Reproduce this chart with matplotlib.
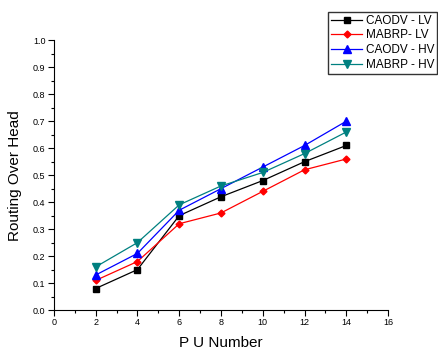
import matplotlib.pyplot as plt
from matplotlib.ticker import MultipleLocator

plt.rcParams['font.family'] = ['Liberation Sans', 'DejaVu Sans']

pu_number = [2, 4, 6, 8, 10, 12, 14]
caodv_lv = [0.08, 0.15, 0.35, 0.42, 0.48, 0.55, 0.61]
mabrp_lv = [0.11, 0.18, 0.32, 0.36, 0.44, 0.52, 0.56]
caodv_hv = [0.13, 0.21, 0.37, 0.45, 0.53, 0.61, 0.70]
mabrp_hv = [0.16, 0.25, 0.39, 0.46, 0.51, 0.58, 0.66]

fig = plt.figure(figsize=(4.38, 3.5), dpi=100)
ax = fig.add_axes([0.123, 0.114, 0.763, 0.771])

ax.plot(pu_number, caodv_lv, color='black', marker='s', markersize=4, linewidth=0.9, label='CAODV - LV')
ax.plot(pu_number, mabrp_lv, color='red', marker='D', markersize=3.5, linewidth=0.9, label='MABRP- LV')
ax.plot(pu_number, caodv_hv, color='blue', marker='^', markersize=5.5, linewidth=0.9, label='CAODV - HV')
ax.plot(pu_number, mabrp_hv, color='#008080', marker='v', markersize=5.5, linewidth=0.9, label='MABRP - HV')

ax.set_xlim(0, 16)
ax.set_ylim(0, 1.0)
ax.xaxis.set_major_locator(MultipleLocator(2))
ax.xaxis.set_minor_locator(MultipleLocator(1))
ax.yaxis.set_major_locator(MultipleLocator(0.1))
ax.yaxis.set_minor_locator(MultipleLocator(0.05))
ax.yaxis.set_major_formatter(plt.FormatStrFormatter('%.1f'))
ax.spines['top'].set_visible(False)
ax.spines['right'].set_visible(False)
ax.tick_params(which='major', direction='out', length=4, width=0.8, labelsize=6.5, pad=2)
ax.tick_params(which='minor', direction='out', length=2, width=0.8)

ax.set_xlabel('P U Number', fontsize=11, labelpad=6)
ax.set_ylabel('Routing Over Head', fontsize=11, labelpad=8)

leg = fig.legend(loc='upper right', bbox_to_anchor=(0.998, 0.966), fontsize=8.5,
                 frameon=True, fancybox=False, edgecolor='black', handlelength=2.6,
                 borderpad=0.25, labelspacing=0.22, handletextpad=0.3, borderaxespad=0)
leg.get_frame().set_linewidth(1.0)

fig.savefig('out.png', dpi=100)
